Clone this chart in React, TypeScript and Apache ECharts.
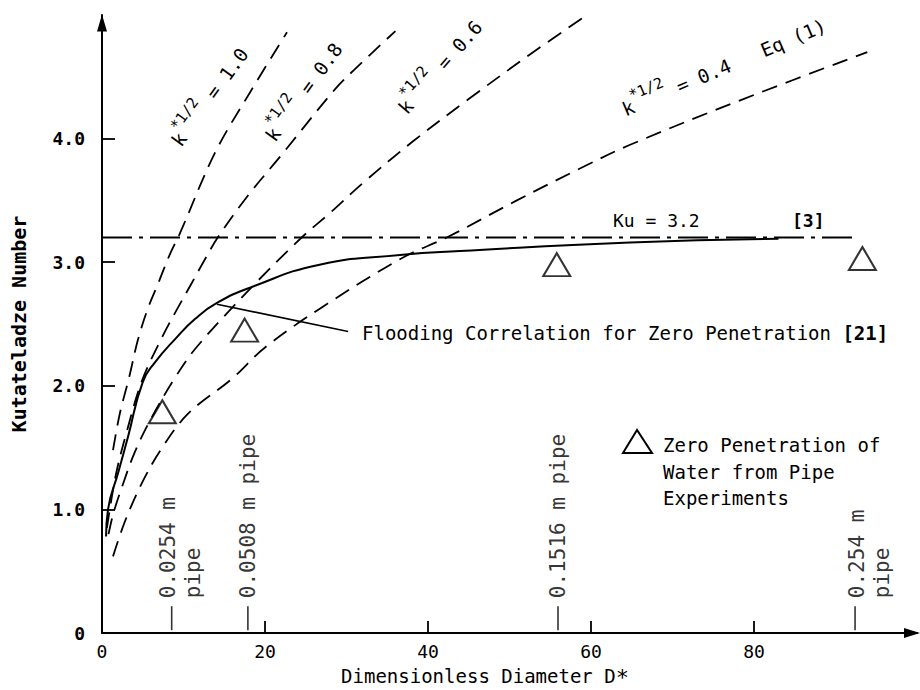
import React, { useEffect, useRef } from 'react';
import * as echarts from 'echarts';

// ---- data ----
// Eq (1) curves, k*^1/2 = 1.0, 0.8, 0.6, 0.4
const k10X = [1.35, 2.2, 3.3, 4.4, 5.6, 6.9, 8.3, 9.6, 13.9, 18.4, 22.7];
const k10Y = [1.48, 1.78, 2.06, 2.37, 2.62, 2.83, 3.06, 3.24, 3.89, 4.40, 4.86];

const k08X = [0.6, 1.7, 3.0, 4.9, 7.5, 9.3, 11.0, 12.6, 14.2, 17.8, 21.8, 28.6, 31.0, 36.0];
const k08Y = [0.85, 1.28, 1.62, 2.04, 2.41, 2.63, 2.83, 3.02, 3.20, 3.53, 3.85, 4.40, 4.56, 4.87];

const k06X = [0.8, 1.4, 2.6, 4.0, 5.9, 9.0, 11.7, 18.4, 24.5, 28.0, 32.0, 38.2, 45.2, 52.5, 59.5];
const k06Y = [0.80, 0.97, 1.21, 1.46, 1.72, 2.07, 2.32, 2.80, 3.20, 3.40, 3.64, 3.98, 4.33, 4.68, 5.0];

const k04X = [1.35, 2.8, 4.8, 7.1, 10.5, 16.0, 20.0, 27.1, 37.0, 42.3, 50.9, 58.7, 64.8, 78.7, 93.9];
const k04Y = [0.62, 0.90, 1.20, 1.47, 1.77, 2.06, 2.31, 2.64, 3.04, 3.20, 3.50, 3.76, 3.95, 4.32, 4.70];

// Flooding correlation for zero penetration [21]
const floodX = [0.5, 0.74, 2.0, 3.2, 5.0, 6.5, 9.0, 11.4, 14.1, 18.4, 26.7, 36.9, 43.9, 64.8, 83.0];
const floodY = [0.78, 1.0, 1.3, 1.59, 2.03, 2.19, 2.38, 2.54, 2.67, 2.80, 2.98, 3.06, 3.09, 3.16, 3.19];

// Ku = 3.2 [3]
const kuValue = 3.2;
const kuX = [0, 92.6];

// leader from the correlation curve to its label
const leaderX = [14.1, 30.2];
const leaderY = [2.66, 2.44];

// Zero penetration of water from pipe experiments
const expX = [7.4, 17.5, 55.8, 93.3];
const expY = [1.79, 2.45, 2.98, 3.03];

// pipe diameters marked on the D* axis
const pipeX = [8.55, 17.9, 55.95, 92.4];
const pipeLabels = ['0.0254 m\npipe', '0.0508 m pipe', '0.1516 m pipe', '0.254 m\npipe'];

// axes
const xTickValues = [20, 40, 60, 80];
const xLabelValues = [0, 20, 40, 60, 80];
const yTickValues = [1, 2, 3, 4];
const yLabelValues = [0, 1, 2, 3, 4];
const yTickLabels = ['0', '1.0', '2.0', '3.0', '4.0'];

const curveValues = ['1.0', '0.8', '0.6', '0.4'];

const FONT = '"DejaVu Sans Mono", monospace';

const zip = (xs: number[], ys: number[]) => xs.map((x, i) => [x, ys[i]]);

function curveLabel(text: string, x: number, y: number, deg: number) {
  return {
    type: 'text',
    x,
    y,
    rotation: (deg * Math.PI) / 180,
    silent: true,
    style: {
      text,
      fill: '#000',
      fontFamily: FONT,
      fontSize: 19,
      align: 'left',
      verticalAlign: 'middle',
      textAlign: 'left',
      textVerticalAlign: 'middle',
      rich: {
        n: { fontFamily: FONT, fontSize: 19, lineHeight: 36, verticalAlign: 'middle', fill: '#000' },
        s: { fontFamily: FONT, fontSize: 15, lineHeight: 6, verticalAlign: 'top', fill: '#000' },
      },
    },
  };
}

function buildOption() {
  const dashed = (name: string, xs: number[], ys: number[]) => ({
    name,
    type: 'line',
    data: zip(xs, ys),
    showSymbol: false,
    symbol: 'none',
    smooth: 0.35,
    silent: true,
    lineStyle: { color: '#000', width: 1.8, type: [16, 9] },
    z: 2,
  });

  return {
    animation: false,
    backgroundColor: '#ffffff',
    textStyle: { fontFamily: FONT, color: '#000' },
    grid: { left: 102, right: 3, top: 15, bottom: 57, containLabel: false, outerBoundsMode: 'none' },
    xAxis: {
      type: 'value',
      min: 0,
      max: 100,
      interval: 20,
      axisLine: {
        show: true,
        lineStyle: { color: '#000', width: 2 },
        symbol: ['none', 'triangle'],
        symbolSize: [10, 16],
        symbolOffset: [0, -5],
      },
      axisTick: {
        show: true,
        inside: true,
        length: 12,
        customValues: xTickValues,
        lineStyle: { color: '#000', width: 1.8 },
      },
      axisLabel: {
        customValues: xLabelValues,
        margin: 9,
        fontSize: 18,
        fontFamily: FONT,
        color: '#000',
        formatter: (v: number) => String(v),
      },
      splitLine: { show: false },
      name: '{n|Dimensionless Diameter D}{s|*}',
      nameLocation: 'middle',
      nameGap: 33,
      nameTextStyle: {
        padding: [0, 49, 0, 0],
        rich: {
          n: { fontFamily: FONT, fontSize: 19, lineHeight: 20, verticalAlign: 'middle', color: '#000' },
          s: { fontFamily: FONT, fontSize: 22, lineHeight: 8, verticalAlign: 'top', color: '#000' },
        },
      },
    },
    yAxis: {
      type: 'value',
      min: 0,
      max: 5,
      interval: 1,
      axisLine: {
        show: true,
        lineStyle: { color: '#000', width: 2 },
        symbol: ['none', 'triangle'],
        symbolSize: [10, 17],
        symbolOffset: [0, -8],
      },
      axisTick: {
        show: true,
        inside: true,
        length: 13,
        customValues: yTickValues,
        lineStyle: { color: '#000', width: 1.8 },
      },
      axisLabel: {
        customValues: yLabelValues,
        margin: 17,
        fontSize: 18,
        fontWeight: 'bold',
        fontFamily: FONT,
        color: '#000',
        formatter: (v: number) => {
          const i = yLabelValues.indexOf(v);
          return i >= 0 ? yTickLabels[i] : '';
        },
      },
      splitLine: { show: false },
      name: 'Kutateladze Number',
      nameLocation: 'middle',
      nameGap: 73,
      nameTextStyle: { fontSize: 20, fontWeight: 'bold', fontFamily: FONT, color: '#000' },
    },
    series: [
      dashed('k*1/2 = 1.0', k10X, k10Y),
      dashed('k*1/2 = 0.8', k08X, k08Y),
      dashed('k*1/2 = 0.6', k06X, k06Y),
      dashed('k*1/2 = 0.4', k04X, k04Y),
      {
        name: 'Flooding Correlation for Zero Penetration [21]',
        type: 'line',
        data: zip(floodX, floodY),
        showSymbol: false,
        symbol: 'none',
        smooth: 0.5,
        silent: true,
        lineStyle: { color: '#000', width: 2 },
        z: 3,
      },
      {
        name: 'Ku = 3.2',
        type: 'line',
        data: kuX.map((x) => [x, kuValue]),
        showSymbol: false,
        symbol: 'none',
        silent: true,
        lineStyle: { color: '#000', width: 1.8, type: [30, 7, 4, 7] },
        z: 2,
      },
      {
        name: 'leader',
        type: 'line',
        data: zip(leaderX, leaderY),
        showSymbol: false,
        symbol: 'none',
        silent: true,
        lineStyle: { color: '#000', width: 1.6 },
        z: 3,
      },
      {
        name: 'Zero Penetration of Water from Pipe Experiments',
        type: 'scatter',
        data: zip(expX, expY),
        symbol: 'triangle',
        symbolSize: [27, 23],
        silent: true,
        itemStyle: { color: 'rgba(0,0,0,0)', borderColor: '#000', borderWidth: 2 },
        z: 5,
      },
      {
        name: 'pipes',
        type: 'scatter',
        symbol: 'rect',
        symbolSize: [1.6, 24],
        silent: true,
        itemStyle: { color: '#000' },
        data: pipeX.map((x, i) => {
          const label: any = {};
          if (i === 0) {
            label.verticalAlign = 'top';
            label.offset = [0, -16.2];
          }
          if (i === 3) {
            label.verticalAlign = 'top';
            label.offset = [0, -10.5];
          }
          return { value: [x, 0.12], label };
        }),
        label: {
          show: true,
          position: 'top',
          distance: 8,
          rotate: 90,
          align: 'left',
          verticalAlign: 'middle',
          fontSize: 21,
          lineHeight: 25,
          fontFamily: FONT,
          color: '#000',
          formatter: (p: any) => pipeLabels[p.dataIndex],
        },
        z: 4,
      },
    ],
    graphic: {
      elements: [
        curveLabel(`{n|k}{s|*1/2}{n| = ${curveValues[0]}}`, 175.5, 144, 54),
        curveLabel(`{n|k}{s|*1/2}{n| = ${curveValues[1]}}`, 269.5, 139, 54),
        curveLabel(`{n|k}{s|*1/2}{n| = ${curveValues[2]}}`, 402, 111, 49),
        curveLabel(`{n|k}{s|*1/2}{n| = ${curveValues[3]}   Eq (1)}`, 623, 110, 23),
        {
          type: 'text',
          x: 613,
          y: 220,
          silent: true,
          style: {
            text: 'Ku = 3.2',
            fill: '#000',
            fontFamily: FONT,
            fontSize: 18,
            align: 'left',
            verticalAlign: 'middle',
            textAlign: 'left',
            textVerticalAlign: 'middle',
          },
        },
        {
          type: 'text',
          x: 792,
          y: 220,
          silent: true,
          style: {
            text: '[3]',
            fill: '#000',
            fontFamily: FONT,
            fontSize: 18,
            fontWeight: 'bold',
            align: 'left',
            verticalAlign: 'middle',
            textAlign: 'left',
            textVerticalAlign: 'middle',
          },
        },
        {
          type: 'text',
          x: 362,
          y: 333,
          silent: true,
          style: {
            text: 'Flooding Correlation for Zero Penetration {b|[21]}',
            fill: '#000',
            fontFamily: FONT,
            fontSize: 19,
            align: 'left',
            verticalAlign: 'middle',
            textAlign: 'left',
            textVerticalAlign: 'middle',
            rich: {
              b: { fontFamily: FONT, fontSize: 19, fontWeight: 'bold', fill: '#000' },
            },
          },
        },
        {
          type: 'polygon',
          silent: true,
          shape: { points: [[637, 430], [623, 453], [652, 453]] },
          style: { fill: 'none', stroke: '#000', lineWidth: 2 },
        },
        {
          type: 'text',
          x: 663,
          y: 432,
          silent: true,
          style: {
            text: 'Zero Penetration of\nWater from Pipe\nExperiments',
            fill: '#000',
            fontFamily: FONT,
            fontSize: 19,
            lineHeight: 26.5,
            align: 'left',
            verticalAlign: 'top',
            textAlign: 'left',
            textVerticalAlign: 'top',
          },
        },
      ],
    },
  };
}

export default function App() {
  const ref = useRef<HTMLDivElement>(null);
  useEffect(() => {
    if (!ref.current) return;
    const chart = echarts.init(ref.current, null, { renderer: 'svg' });
    chart.setOption(buildOption() as any);
    return () => {
      chart.dispose();
    };
  }, []);
  return (
    <div
      ref={ref}
      style={{ position: 'absolute', left: 0, top: 0, width: 920, height: 690, background: '#fff' }}
    />
  );
}
